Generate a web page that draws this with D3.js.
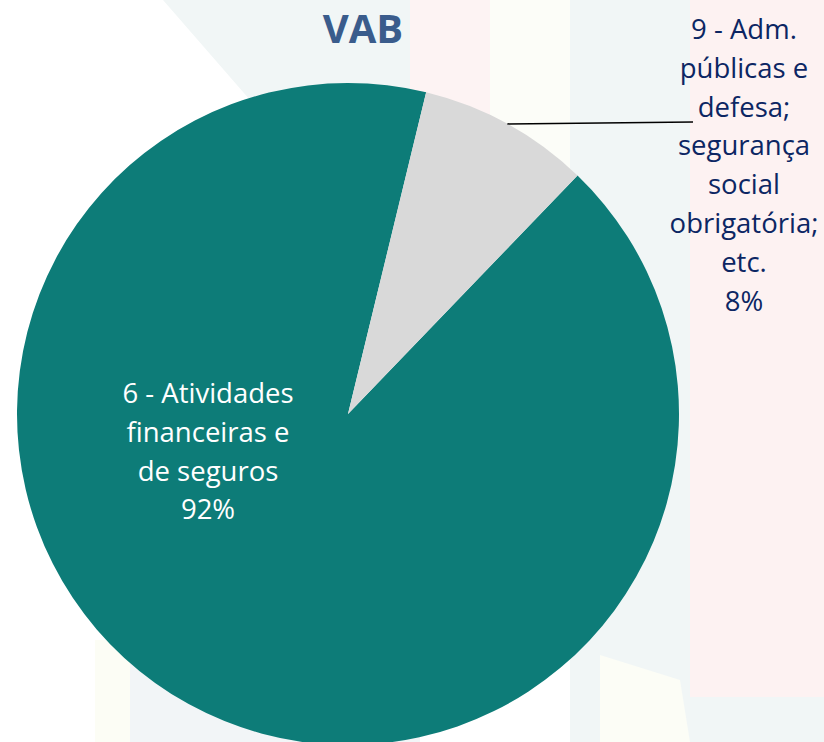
<!DOCTYPE html>
<html>
<head>
<meta charset="utf-8">
<script src="https://cdn.jsdelivr.net/npm/d3@7"></script>
<style>
  body { margin: 0; background: #fff; }
  svg { display: block; }
</style>
</head>
<body>
<div id="chart"></div>
<script>
// data
let categories = ['6 - Atividades financeiras e de seguros', '9 - Adm. públicas e defesa; segurança social obrigatória; etc.'];
let shares = [91.6, 8.4];
let labelLines = [
    ['6 - Atividades', 'financeiras e', 'de seguros'],
    ['9 - Adm.', 'públicas e', 'defesa;', 'segurança', 'social', 'obrigatória;', 'etc.']
];
let sliceColors = ['#0d7c78', '#d9d9d9'];
let labelColors = ['#ffffff', '#0c2663'];

let width = 824;
let height = 742;
let cx = 348, cy = 414, radius = 331;

let svg = d3.select('#chart')
    .append('svg')
    .attr('width', width)
    .attr('height', height);

// faint background patches (slide decoration)
let bg = svg.append('g');
let patches = [
    { pts: [[163, 0], [410, 0], [410, 330], [250, 100]], fill: '#f1f6f6' },
    { pts: [[410, 0], [490, 0], [490, 300], [410, 300]], fill: '#fdf3f3' },
    { pts: [[490, 0], [570, 0], [570, 300], [490, 300]], fill: '#fcfdf8' },
    { pts: [[570, 0], [690, 0], [690, 742], [570, 742]], fill: '#f1f6f6' },
    { pts: [[690, 0], [824, 0], [824, 697], [690, 697]], fill: '#fdf2f2' },
    { pts: [[600, 655], [680, 680], [690, 742], [600, 742]], fill: '#fcfdf6' },
    { pts: [[690, 697], [824, 697], [824, 742], [690, 742]], fill: '#f1f6f6' },
    { pts: [[95, 640], [130, 640], [130, 742], [95, 742]], fill: '#fcfdf5' },
    { pts: [[130, 640], [420, 640], [420, 742], [130, 742]], fill: '#f2f5f7' }
];
bg.selectAll('polygon')
    .data(patches)
    .enter()
    .append('polygon')
    .attr('points', d => d.pts.map(p => p.join(',')).join(' '))
    .attr('fill', d => d.fill);

// pie, first slice starts where the grey one ends
let startAngle = 43.9 * Math.PI / 180;
let pie = d3.pie()
    .sort(null)
    .value(d => d)
    .startAngle(startAngle)
    .endAngle(startAngle + 2 * Math.PI);

let arcs = pie(shares);
let arc = d3.arc().innerRadius(0).outerRadius(radius);

let g = svg.append('g')
    .attr('transform', `translate(${cx}, ${cy})`);

g.selectAll('path')
    .data(arcs)
    .enter()
    .append('path')
    .attr('d', arc)
    .attr('fill', (d, i) => sliceColors[i]);

let total = d3.sum(shares);
let font = "'Open Sans', 'Noto Sans', sans-serif";
let lineH = 38.8;

// label inside the big slice
let inside = svg.append('text')
    .attr('text-anchor', 'middle')
    .style('font-family', font)
    .style('font-size', '27.5px')
    .style('fill', labelColors[0]);
labelLines[0].concat([Math.round(shares[0] / total * 100) + '%']).forEach((t, i) => {
    inside.append('tspan').attr('x', 208).attr('y', 403 + i * lineH).text(t);
});

// outside label for the small slice
let outside = svg.append('text')
    .attr('text-anchor', 'middle')
    .style('font-family', font)
    .style('font-size', '27.5px')
    .style('fill', labelColors[1]);
labelLines[1].concat([Math.round(shares[1] / total * 100) + '%']).forEach((t, i) => {
    outside.append('tspan').attr('x', 744).attr('y', 39 + i * lineH).text(t);
});

// leader line from the middle of the grey slice's rim to its label
let mid = (arcs[1].startAngle + arcs[1].endAngle) / 2;
svg.append('line')
    .attr('x1', cx + radius * Math.sin(mid))
    .attr('y1', cy - radius * Math.cos(mid))
    .attr('x2', 693)
    .attr('y2', 122)
    .attr('stroke', '#000')
    .attr('stroke-width', 1.5);

// title
svg.append('text')
    .attr('x', 363)
    .attr('y', 43)
    .attr('text-anchor', 'middle')
    .style('font-family', font)
    .style('font-weight', 'bold')
    .style('font-size', '40px')
    .style('fill', '#3a5c8c')
    .text('VAB');
</script>
</body>
</html>
